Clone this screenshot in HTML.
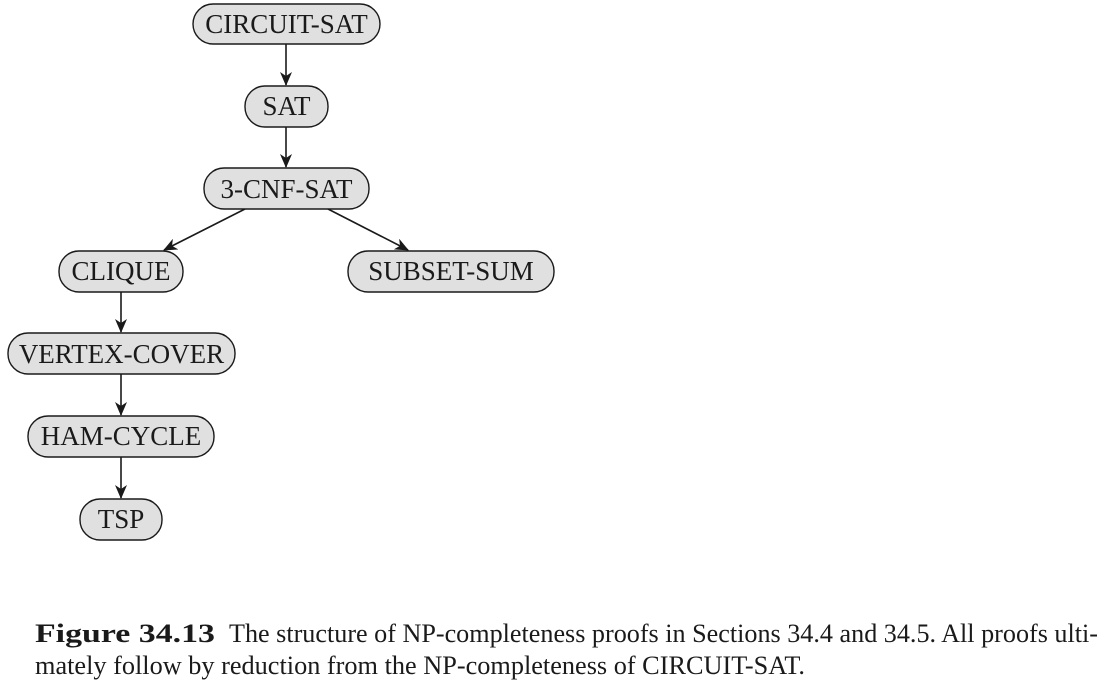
<!DOCTYPE html>
<html><head><meta charset="utf-8"><style>
html,body{margin:0;padding:0;background:#fff;}
svg{display:block;}
text{font-family:"Liberation Serif",serif;fill:#1a1a1a;}
</style></head><body>
<svg width="1107" height="689" viewBox="0 0 1107 689">
<defs>
<marker id="ah" markerWidth="14" markerHeight="12" refX="13" refY="6" orient="auto" markerUnits="userSpaceOnUse">
<path d="M0,0 L14,6 L0,12 L4,6 Z" fill="#1a1a1a"/>
</marker>
</defs>
<g stroke="#1a1a1a" stroke-width="1.6" fill="none">
<line x1="286" y1="44" x2="286" y2="85" marker-end="url(#ah)"/>
<line x1="286" y1="127" x2="286" y2="167" marker-end="url(#ah)"/>
<line x1="245" y1="209" x2="164" y2="250" marker-end="url(#ah)"/>
<line x1="328" y1="209" x2="408" y2="250" marker-end="url(#ah)"/>
<line x1="121" y1="292" x2="121" y2="332" marker-end="url(#ah)"/>
<line x1="121" y1="374" x2="121" y2="415" marker-end="url(#ah)"/>
<line x1="121" y1="457" x2="121" y2="498" marker-end="url(#ah)"/>
</g>
<g font-size="27" text-anchor="middle">
<g><rect x="193" y="4" width="187" height="40" rx="20" fill="#e0e0e0" stroke="#1a1a1a" stroke-width="1.4"/><text x="286.5" y="33">CIRCUIT-SAT</text></g>
<g><rect x="245" y="86" width="83" height="41" rx="20" fill="#e0e0e0" stroke="#1a1a1a" stroke-width="1.4"/><text x="286.5" y="115">SAT</text></g>
<g><rect x="204" y="168" width="165" height="41" rx="20" fill="#e0e0e0" stroke="#1a1a1a" stroke-width="1.4"/><text x="286.5" y="198">3-CNF-SAT</text></g>
<g><rect x="59" y="251" width="124" height="41" rx="20" fill="#e0e0e0" stroke="#1a1a1a" stroke-width="1.4"/><text x="121" y="280">CLIQUE</text></g>
<g><rect x="348" y="251" width="206" height="41" rx="20" fill="#e0e0e0" stroke="#1a1a1a" stroke-width="1.4"/><text x="451" y="280">SUBSET-SUM</text></g>
<g><rect x="8" y="333" width="227" height="41" rx="20" fill="#e0e0e0" stroke="#1a1a1a" stroke-width="1.4"/><text x="121.5" y="363">VERTEX-COVER</text></g>
<g><rect x="28" y="416" width="186" height="41" rx="20" fill="#e0e0e0" stroke="#1a1a1a" stroke-width="1.4"/><text x="121" y="445">HAM-CYCLE</text></g>
<g><rect x="80" y="499" width="82" height="41" rx="20" fill="#e0e0e0" stroke="#1a1a1a" stroke-width="1.4"/><text x="121" y="528">TSP</text></g>
</g>
<g font-size="26">
<text x="35" y="642" font-weight="bold" textLength="180" lengthAdjust="spacingAndGlyphs">Figure 34.13</text>
<text x="229" y="642" textLength="869" lengthAdjust="spacingAndGlyphs">The structure of NP-completeness proofs in Sections 34.4 and 34.5. All proofs ulti-</text>
<text x="35" y="674" textLength="770" lengthAdjust="spacingAndGlyphs">mately follow by reduction from the NP-completeness of CIRCUIT-SAT.</text>
</g>
</svg>
</body></html>
